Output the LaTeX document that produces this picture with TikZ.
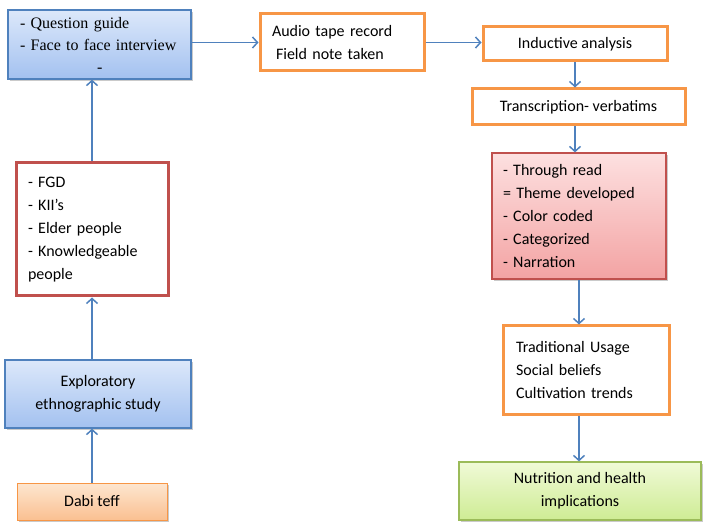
\documentclass[tikz,border=0pt]{standalone}
\usepackage{fontspec}
\setmainfont{Carlito}
\newfontfamily\guidefont{Liberation Serif}
\usetikzlibrary{arrows.meta,shadows}

\definecolor{linkblue}{RGB}{79,129,189}
\definecolor{boxorange}{RGB}{247,150,70}
\definecolor{boxred}{RGB}{192,80,77}
\definecolor{boxgreen}{RGB}{155,187,89}

\tikzset{
  box/.style={draw, rectangle, inner xsep=12pt, inner ysep=4pt, align=left,
    font=\fontsize{16}{23}\selectfont},
  soft shadow/.style={drop shadow={shadow xshift=1.5pt, shadow yshift=-2pt,
    opacity=.35, fill=black!60}},
  bluebox/.style={box, draw=linkblue, line width=1.2pt,
    top color={rgb,255:red,220;green,232;blue,250},
    bottom color={rgb,255:red,163;green,193;blue,240}, soft shadow},
  orangebox/.style={box, draw=boxorange, line width=3pt, fill=white},
  redbox/.style={box, draw=boxred, line width=3pt, fill=white},
  pinkbox/.style={box, draw=boxred, line width=1.2pt,
    top color={rgb,255:red,253;green,224;blue,224},
    bottom color={rgb,255:red,243;green,163;blue,163}, soft shadow},
  greenbox/.style={box, draw=boxgreen, line width=1.2pt,
    top color={rgb,255:red,240;green,250;blue,215},
    bottom color={rgb,255:red,206;green,236;blue,148}, soft shadow},
  peachbox/.style={box, draw=boxorange, line width=1pt,
    top color={rgb,255:red,253;green,230;blue,208},
    bottom color={rgb,255:red,250;green,192;blue,145}, soft shadow},
  link/.style={draw=linkblue, line width=1.5pt,
    -{Straight Barb[length=5pt,width=11pt]}},
}

\begin{document}
\begin{tikzpicture}[x=1pt,y=-1pt]
\useasboundingbox (0,0) rectangle (709,526);

% left column
\node[bluebox, text width=159pt, minimum height=69pt,
  font=\guidefont\fontsize{16}{22}\selectfont] (guide) at (99.5,44.5)
  {- Question guide\\- Face to face interview\\\hspace*{77pt}-};
\node[redbox, text width=128pt, minimum height=133pt] (sources) at (92,229.5)
  {- FGD\\- KII’s\\- Elder people\\- Knowledgeable\\people};
\node[bluebox, align=center, minimum width=186pt, minimum height=68pt] (explor) at (98,394)
  {Exploratory\\ethnographic study};
\node[peachbox, align=center, minimum width=150pt, minimum height=37pt] (dabi) at (92,501.5)
  {Dabi teff};

% top row and right column
\node[orangebox, text width=140pt, minimum height=57pt] (audio) at (342,42.5)
  {Audio tape record\\\hspace*{4pt}Field note taken};
\node[orangebox, align=center, minimum width=184pt, minimum height=34pt] (induct) at (575,44)
  {Inductive analysis};
\node[orangebox, align=center, minimum width=213pt, minimum height=36pt] (trans) at (578.5,107)
  {Transcription- verbatims};
\node[pinkbox, inner xsep=11pt, text width=152pt, minimum height=126pt] (themes) at (579,216)
  {- Through read\\= Theme developed\\- Color coded\\- Categorized\\- Narration};
\node[orangebox, inner xsep=13pt, text width=140pt, minimum height=88pt] (usage) at (586,370)
  {Traditional Usage\\Social beliefs\\Cultivation trends};
\node[greenbox, align=center, minimum width=242pt, minimum height=58pt] (nutr) at (580,491)
  {Nutrition and health\\implications};

% connectors
\draw[link] (dabi.north) -- (dabi.north |- explor.south);
\draw[link] (sources.south |- explor.north) -- (sources.south);
\draw[link] (sources.north) -- (sources.north |- guide.south);
\draw[link] (guide.east |- audio.west) -- (audio.west);
\draw[link] (audio.east) -- (audio.east -| induct.west);
\draw[link] (induct.south) -- (induct.south |- trans.north);
\draw[link] (induct.south |- trans.south) -- (induct.south |- themes.north);
\draw[link] (themes.south) -- (themes.south |- usage.north);
\draw[link] (themes.south |- usage.south) -- (themes.south |- nutr.north);

\end{tikzpicture}
\end{document}
